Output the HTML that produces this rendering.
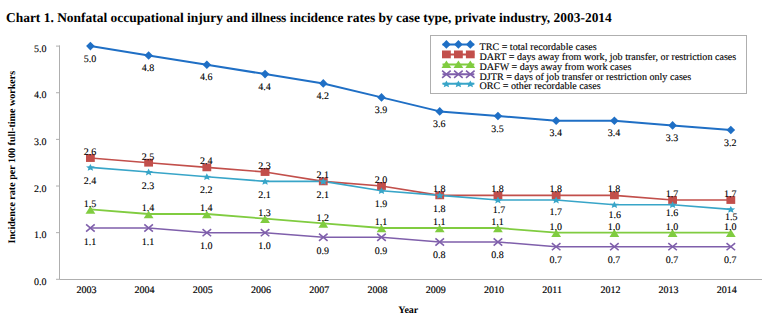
<!DOCTYPE html>
<html><head><meta charset="utf-8">
<style>
html,body{margin:0;padding:0;background:#fff;}
body{width:767px;height:330px;overflow:hidden;}
svg{display:block;}
text{font-family:"Liberation Serif",serif;fill:#000;text-rendering:geometricPrecision;}
.dl,.yl,.lg{stroke:#000;stroke-width:0.12px;}
.xl{stroke:#000;stroke-width:0.18px;}
.dl{font-size:10px;text-anchor:middle;}
.yl{font-size:10px;text-anchor:end;}
.xl{font-size:10px;text-anchor:middle;}
.lg{font-size:10.1px;}
.title{font-size:13.44px;font-weight:bold;}
.yt{font-size:10.05px;font-weight:bold;text-anchor:middle;}
.xt{font-size:10px;font-weight:bold;text-anchor:middle;}
</style></head>
<body><svg width="767" height="330" viewBox="0 0 767 330">
<path d="M59.5 45.4V279.5H762" fill="none" stroke="#afafaf" stroke-width="1"/>
<path d="M56 279.30H59.5" stroke="#afafaf" stroke-width="1"/>
<text x="46.5" y="284.90" class="yl">0.0</text>
<path d="M56 232.66H59.5" stroke="#afafaf" stroke-width="1"/>
<text x="46.5" y="238.26" class="yl">1.0</text>
<path d="M56 186.02H59.5" stroke="#afafaf" stroke-width="1"/>
<text x="46.5" y="191.62" class="yl">2.0</text>
<path d="M56 139.38H59.5" stroke="#afafaf" stroke-width="1"/>
<text x="46.5" y="144.98" class="yl">3.0</text>
<path d="M56 92.74H59.5" stroke="#afafaf" stroke-width="1"/>
<text x="46.5" y="98.34" class="yl">4.0</text>
<path d="M56 46.10H59.5" stroke="#afafaf" stroke-width="1"/>
<text x="46.5" y="51.70" class="yl">5.0</text>
<text x="86.40" y="293.3" class="xl">2003</text>
<text x="144.62" y="293.3" class="xl">2004</text>
<text x="202.84" y="293.3" class="xl">2005</text>
<text x="261.06" y="293.3" class="xl">2006</text>
<text x="319.28" y="293.3" class="xl">2007</text>
<text x="377.50" y="293.3" class="xl">2008</text>
<text x="435.72" y="293.3" class="xl">2009</text>
<text x="493.94" y="293.3" class="xl">2010</text>
<text x="552.16" y="293.3" class="xl">2011</text>
<text x="610.38" y="293.3" class="xl">2012</text>
<text x="668.60" y="293.3" class="xl">2013</text>
<text x="726.82" y="293.3" class="xl">2014</text>
<polyline points="90.40,46.10 148.62,55.43 206.84,64.76 265.06,74.08 323.28,83.41 381.50,97.40 439.72,111.40 497.94,116.06 556.16,120.72 614.38,120.72 672.60,125.39 730.82,130.05" fill="none" stroke="#1f6fc5" stroke-width="2" stroke-linejoin="round"/>
<polyline points="90.40,158.04 148.62,162.70 206.84,167.36 265.06,172.03 323.28,181.36 381.50,186.02 439.72,195.35 497.94,195.35 556.16,195.35 614.38,195.35 672.60,200.01 730.82,200.01" fill="none" stroke="#c24f4b" stroke-width="1.6" stroke-linejoin="round"/>
<polyline points="90.40,209.34 148.62,214.00 206.84,214.00 265.06,218.67 323.28,223.33 381.50,228.00 439.72,228.00 497.94,228.00 556.16,232.66 614.38,232.66 672.60,232.66 730.82,232.66" fill="none" stroke="#80cc40" stroke-width="1.8" stroke-linejoin="round"/>
<polyline points="90.40,228.00 148.62,228.00 206.84,232.66 265.06,232.66 323.28,237.32 381.50,237.32 439.72,241.99 497.94,241.99 556.16,246.65 614.38,246.65 672.60,246.65 730.82,246.65" fill="none" stroke="#7f5fab" stroke-width="1.5" stroke-linejoin="round"/>
<polyline points="90.40,167.36 148.62,172.03 206.84,176.69 265.06,181.36 323.28,181.36 381.50,190.68 439.72,195.35 497.94,200.01 556.16,200.01 614.38,204.68 672.60,204.68 730.82,209.34" fill="none" stroke="#38a5c8" stroke-width="1.6" stroke-linejoin="round"/>
<path d="M90.40 41.80L94.70 46.10L90.40 50.40L86.10 46.10Z" fill="#1f6fc5"/>
<rect x="86.00" y="154.14" width="8.8" height="7.8" fill="#c24f4b"/>
<path d="M90.40 206.04L95.30 213.64L85.50 213.64Z" fill="#80cc40"/>
<path d="M86.10 224.40L94.70 231.60M94.70 224.40L86.10 231.60" stroke="#7f5fab" stroke-width="1.6" fill="none"/>
<polygon points="90.40,163.95 91.63,166.33 94.77,166.56 92.40,168.26 93.10,170.78 90.40,169.45 87.70,170.78 88.40,168.26 86.03,166.56 89.17,166.33" fill="#38a5c8"/>
<path d="M148.62 51.13L152.92 55.43L148.62 59.73L144.32 55.43Z" fill="#1f6fc5"/>
<rect x="144.22" y="158.80" width="8.8" height="7.8" fill="#c24f4b"/>
<path d="M148.62 210.70L153.52 218.30L143.72 218.30Z" fill="#80cc40"/>
<path d="M144.32 224.40L152.92 231.60M152.92 224.40L144.32 231.60" stroke="#7f5fab" stroke-width="1.6" fill="none"/>
<polygon points="148.62,168.62 149.85,171.00 152.99,171.22 150.62,172.92 151.32,175.44 148.62,174.11 145.92,175.44 146.62,172.92 144.25,171.22 147.39,171.00" fill="#38a5c8"/>
<path d="M206.84 60.46L211.14 64.76L206.84 69.06L202.54 64.76Z" fill="#1f6fc5"/>
<rect x="202.44" y="163.46" width="8.8" height="7.8" fill="#c24f4b"/>
<path d="M206.84 210.70L211.74 218.30L201.94 218.30Z" fill="#80cc40"/>
<path d="M202.54 229.06L211.14 236.26M211.14 229.06L202.54 236.26" stroke="#7f5fab" stroke-width="1.6" fill="none"/>
<polygon points="206.84,173.28 208.07,175.66 211.21,175.89 208.84,177.58 209.54,180.10 206.84,178.77 204.14,180.10 204.84,177.58 202.47,175.89 205.61,175.66" fill="#38a5c8"/>
<path d="M265.06 69.78L269.36 74.08L265.06 78.38L260.76 74.08Z" fill="#1f6fc5"/>
<rect x="260.66" y="168.13" width="8.8" height="7.8" fill="#c24f4b"/>
<path d="M265.06 215.37L269.96 222.97L260.16 222.97Z" fill="#80cc40"/>
<path d="M260.76 229.06L269.36 236.26M269.36 229.06L260.76 236.26" stroke="#7f5fab" stroke-width="1.6" fill="none"/>
<polygon points="265.06,177.94 266.29,180.32 269.43,180.55 267.06,182.25 267.76,184.77 265.06,183.44 262.36,184.77 263.06,182.25 260.69,180.55 263.83,180.32" fill="#38a5c8"/>
<path d="M323.28 79.11L327.58 83.41L323.28 87.71L318.98 83.41Z" fill="#1f6fc5"/>
<rect x="318.88" y="177.46" width="8.8" height="7.8" fill="#c24f4b"/>
<path d="M323.28 220.03L328.18 227.63L318.38 227.63Z" fill="#80cc40"/>
<path d="M318.98 233.72L327.58 240.92M327.58 233.72L318.98 240.92" stroke="#7f5fab" stroke-width="1.6" fill="none"/>
<polygon points="323.28,177.94 324.51,180.32 327.65,180.55 325.28,182.25 325.98,184.77 323.28,183.44 320.58,184.77 321.28,182.25 318.91,180.55 322.05,180.32" fill="#38a5c8"/>
<path d="M381.50 93.10L385.80 97.40L381.50 101.70L377.20 97.40Z" fill="#1f6fc5"/>
<rect x="377.10" y="182.12" width="8.8" height="7.8" fill="#c24f4b"/>
<path d="M381.50 224.70L386.40 232.30L376.60 232.30Z" fill="#80cc40"/>
<path d="M377.20 233.72L385.80 240.92M385.80 233.72L377.20 240.92" stroke="#7f5fab" stroke-width="1.6" fill="none"/>
<polygon points="381.50,187.27 382.73,189.65 385.87,189.88 383.50,191.58 384.20,194.10 381.50,192.77 378.80,194.10 379.50,191.58 377.13,189.88 380.27,189.65" fill="#38a5c8"/>
<path d="M439.72 107.10L444.02 111.40L439.72 115.70L435.42 111.40Z" fill="#1f6fc5"/>
<rect x="435.32" y="191.45" width="8.8" height="7.8" fill="#c24f4b"/>
<path d="M439.72 224.70L444.62 232.30L434.82 232.30Z" fill="#80cc40"/>
<path d="M435.42 238.39L444.02 245.59M444.02 238.39L435.42 245.59" stroke="#7f5fab" stroke-width="1.6" fill="none"/>
<polygon points="439.72,191.94 440.95,194.32 444.09,194.54 441.72,196.24 442.42,198.76 439.72,197.43 437.02,198.76 437.72,196.24 435.35,194.54 438.49,194.32" fill="#38a5c8"/>
<path d="M497.94 111.76L502.24 116.06L497.94 120.36L493.64 116.06Z" fill="#1f6fc5"/>
<rect x="493.54" y="191.45" width="8.8" height="7.8" fill="#c24f4b"/>
<path d="M497.94 224.70L502.84 232.30L493.04 232.30Z" fill="#80cc40"/>
<path d="M493.64 238.39L502.24 245.59M502.24 238.39L493.64 245.59" stroke="#7f5fab" stroke-width="1.6" fill="none"/>
<polygon points="497.94,196.60 499.17,198.98 502.31,199.21 499.94,200.90 500.64,203.42 497.94,202.09 495.24,203.42 495.94,200.90 493.57,199.21 496.71,198.98" fill="#38a5c8"/>
<path d="M556.16 116.42L560.46 120.72L556.16 125.02L551.86 120.72Z" fill="#1f6fc5"/>
<rect x="551.76" y="191.45" width="8.8" height="7.8" fill="#c24f4b"/>
<path d="M556.16 229.36L561.06 236.96L551.26 236.96Z" fill="#80cc40"/>
<path d="M551.86 243.05L560.46 250.25M560.46 243.05L551.86 250.25" stroke="#7f5fab" stroke-width="1.6" fill="none"/>
<polygon points="556.16,196.60 557.39,198.98 560.53,199.21 558.16,200.90 558.86,203.42 556.16,202.09 553.46,203.42 554.16,200.90 551.79,199.21 554.93,198.98" fill="#38a5c8"/>
<path d="M614.38 116.42L618.68 120.72L614.38 125.02L610.08 120.72Z" fill="#1f6fc5"/>
<rect x="609.98" y="191.45" width="8.8" height="7.8" fill="#c24f4b"/>
<path d="M614.38 229.36L619.28 236.96L609.48 236.96Z" fill="#80cc40"/>
<path d="M610.08 243.05L618.68 250.25M618.68 243.05L610.08 250.25" stroke="#7f5fab" stroke-width="1.6" fill="none"/>
<polygon points="614.38,201.26 615.61,203.64 618.75,203.87 616.38,205.57 617.08,208.09 614.38,206.76 611.68,208.09 612.38,205.57 610.01,203.87 613.15,203.64" fill="#38a5c8"/>
<path d="M672.60 121.09L676.90 125.39L672.60 129.69L668.30 125.39Z" fill="#1f6fc5"/>
<rect x="668.20" y="196.11" width="8.8" height="7.8" fill="#c24f4b"/>
<path d="M672.60 229.36L677.50 236.96L667.70 236.96Z" fill="#80cc40"/>
<path d="M668.30 243.05L676.90 250.25M676.90 243.05L668.30 250.25" stroke="#7f5fab" stroke-width="1.6" fill="none"/>
<polygon points="672.60,201.26 673.83,203.64 676.97,203.87 674.60,205.57 675.30,208.09 672.60,206.76 669.90,208.09 670.60,205.57 668.23,203.87 671.37,203.64" fill="#38a5c8"/>
<path d="M730.82 125.75L735.12 130.05L730.82 134.35L726.52 130.05Z" fill="#1f6fc5"/>
<rect x="726.42" y="196.11" width="8.8" height="7.8" fill="#c24f4b"/>
<path d="M730.82 229.36L735.72 236.96L725.92 236.96Z" fill="#80cc40"/>
<path d="M726.52 243.05L735.12 250.25M735.12 243.05L726.52 250.25" stroke="#7f5fab" stroke-width="1.6" fill="none"/>
<polygon points="730.82,205.93 732.05,208.31 735.19,208.53 732.82,210.23 733.52,212.75 730.82,211.42 728.12,212.75 728.82,210.23 726.45,208.53 729.59,208.31" fill="#38a5c8"/>
<text x="89.90" y="61.80" class="dl">5.0</text>
<text x="89.90" y="154.84" class="dl">2.6</text>
<text x="89.90" y="206.54" class="dl">1.5</text>
<text x="89.90" y="244.50" class="dl">1.1</text>
<text x="89.90" y="183.86" class="dl">2.4</text>
<text x="148.12" y="71.13" class="dl">4.8</text>
<text x="148.12" y="159.50" class="dl">2.5</text>
<text x="148.12" y="211.20" class="dl">1.4</text>
<text x="148.12" y="244.50" class="dl">1.1</text>
<text x="148.12" y="188.53" class="dl">2.3</text>
<text x="206.34" y="80.46" class="dl">4.6</text>
<text x="206.34" y="164.16" class="dl">2.4</text>
<text x="206.34" y="211.20" class="dl">1.4</text>
<text x="206.34" y="249.16" class="dl">1.0</text>
<text x="206.34" y="193.19" class="dl">2.2</text>
<text x="264.56" y="89.78" class="dl">4.4</text>
<text x="264.56" y="168.83" class="dl">2.3</text>
<text x="264.56" y="215.87" class="dl">1.3</text>
<text x="264.56" y="249.16" class="dl">1.0</text>
<text x="264.56" y="197.86" class="dl">2.1</text>
<text x="322.78" y="99.11" class="dl">4.2</text>
<text x="322.78" y="178.16" class="dl">2.1</text>
<text x="322.78" y="220.53" class="dl">1.2</text>
<text x="322.78" y="253.82" class="dl">0.9</text>
<text x="322.78" y="197.86" class="dl">2.1</text>
<text x="381.00" y="113.10" class="dl">3.9</text>
<text x="381.00" y="182.82" class="dl">2.0</text>
<text x="381.00" y="225.20" class="dl">1.1</text>
<text x="381.00" y="253.82" class="dl">0.9</text>
<text x="381.00" y="207.18" class="dl">1.9</text>
<text x="439.22" y="127.10" class="dl">3.6</text>
<text x="439.22" y="192.15" class="dl">1.8</text>
<text x="439.22" y="225.20" class="dl">1.1</text>
<text x="439.22" y="258.49" class="dl">0.8</text>
<text x="439.22" y="211.85" class="dl">1.8</text>
<text x="497.44" y="131.76" class="dl">3.5</text>
<text x="497.44" y="192.15" class="dl">1.8</text>
<text x="497.44" y="225.20" class="dl">1.1</text>
<text x="497.44" y="258.49" class="dl">0.8</text>
<text x="498.94" y="212.71" class="dl">1.7</text>
<text x="555.66" y="136.42" class="dl">3.4</text>
<text x="555.66" y="192.15" class="dl">1.8</text>
<text x="555.66" y="229.86" class="dl">1.0</text>
<text x="555.66" y="263.15" class="dl">0.7</text>
<text x="555.66" y="214.61" class="dl">1.7</text>
<text x="613.88" y="136.42" class="dl">3.4</text>
<text x="613.88" y="192.15" class="dl">1.8</text>
<text x="613.88" y="229.86" class="dl">1.0</text>
<text x="613.88" y="263.15" class="dl">0.7</text>
<text x="614.78" y="218.08" class="dl">1.6</text>
<text x="672.10" y="141.09" class="dl">3.3</text>
<text x="672.10" y="196.81" class="dl">1.7</text>
<text x="672.10" y="229.86" class="dl">1.0</text>
<text x="672.10" y="263.15" class="dl">0.7</text>
<text x="672.10" y="216.28" class="dl">1.6</text>
<text x="730.32" y="145.75" class="dl">3.2</text>
<text x="730.32" y="196.81" class="dl">1.7</text>
<text x="730.32" y="229.86" class="dl">1.0</text>
<text x="730.32" y="263.15" class="dl">0.7</text>
<text x="731.32" y="219.84" class="dl">1.5</text>
<rect x="430.5" y="35.5" width="316" height="58" fill="#fff" stroke="#afafaf" stroke-width="1"/>
<path d="M442.5 44.40H474.3" stroke="#1f6fc5" stroke-width="2"/>
<path d="M446.40 40.10L450.70 44.40L446.40 48.70L442.10 44.40Z" fill="#1f6fc5"/>
<path d="M458.40 40.10L462.70 44.40L458.40 48.70L454.10 44.40Z" fill="#1f6fc5"/>
<path d="M470.30 40.10L474.60 44.40L470.30 48.70L466.00 44.40Z" fill="#1f6fc5"/>
<text x="479.5" y="49.70" class="lg">TRC = total recordable cases</text>
<path d="M442.5 54.40H474.3" stroke="#c24f4b" stroke-width="2"/>
<rect x="442.00" y="50.50" width="8.8" height="7.8" fill="#c24f4b"/>
<rect x="454.00" y="50.50" width="8.8" height="7.8" fill="#c24f4b"/>
<rect x="465.90" y="50.50" width="8.8" height="7.8" fill="#c24f4b"/>
<text x="479.5" y="59.70" class="lg">DART = days away from work, job transfer, or restriction cases</text>
<path d="M442.5 64.40H474.3" stroke="#80cc40" stroke-width="2"/>
<path d="M446.40 60.50L451.30 68.10L441.50 68.10Z" fill="#80cc40"/>
<path d="M458.40 60.50L463.30 68.10L453.50 68.10Z" fill="#80cc40"/>
<path d="M470.30 60.50L475.20 68.10L465.40 68.10Z" fill="#80cc40"/>
<text x="479.5" y="69.70" class="lg">DAFW = days away from work cases</text>
<path d="M442.5 74.20H474.3" stroke="#7f5fab" stroke-width="2"/>
<path d="M442.10 70.60L450.70 77.80M450.70 70.60L442.10 77.80" stroke="#7f5fab" stroke-width="1.6" fill="none"/>
<path d="M454.10 70.60L462.70 77.80M462.70 70.60L454.10 77.80" stroke="#7f5fab" stroke-width="1.6" fill="none"/>
<path d="M466.00 70.60L474.60 77.80M474.60 70.60L466.00 77.80" stroke="#7f5fab" stroke-width="1.6" fill="none"/>
<text x="479.5" y="79.50" class="lg">DJTR = days of job transfer or restriction only cases</text>
<path d="M442.5 83.80H474.3" stroke="#38a5c8" stroke-width="2"/>
<polygon points="446.40,80.39 447.63,82.77 450.77,82.99 448.40,84.69 449.10,87.21 446.40,85.88 443.70,87.21 444.40,84.69 442.03,82.99 445.17,82.77" fill="#38a5c8"/>
<polygon points="458.40,80.39 459.63,82.77 462.77,82.99 460.40,84.69 461.10,87.21 458.40,85.88 455.70,87.21 456.40,84.69 454.03,82.99 457.17,82.77" fill="#38a5c8"/>
<polygon points="470.30,80.39 471.53,82.77 474.67,82.99 472.30,84.69 473.00,87.21 470.30,85.88 467.60,87.21 468.30,84.69 465.93,82.99 469.07,82.77" fill="#38a5c8"/>
<text x="479.5" y="89.10" class="lg">ORC = other recordable cases</text>
<text x="6" y="21.9" class="title">Chart 1. Nonfatal occupational injury and illness incidence rates by case type, private industry, 2003-2014</text>
<text transform="translate(15.3 157.2) rotate(-90)" class="yt">Incidence rate per 100 full-time workers</text>
<text x="408.3" y="313.1" class="xt">Year</text>
</svg></body></html>
